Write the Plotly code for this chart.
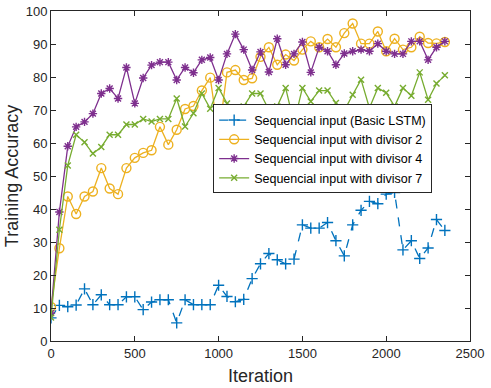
import plotly.graph_objs as go

# iteration steps (every 50)
ITERATIONS = list(range(0, 2400, 50))

ACC_BASIC = [7.0, 10.8, 10.4, 10.9, 15.8, 11.0, 14.0, 11.0, 11.0, 13.4,
             13.4, 9.5, 11.8, 12.5, 12.5, 5.5, 12.5, 11.0, 11.0, 11.0,
             16.9, 13.5, 11.9, 12.6, 18.9, 23.4, 26.5, 24.6, 23.4, 24.8,
             35.2, 34.2, 34.2, 35.9, 30.4, 25.8, 35.2, 39.6, 42.3, 41.6,
             44.5, 45.0, 27.6, 30.4, 25.0, 28.2, 36.8, 33.5]
ACC_DIV2 = [10.3, 28.1, 43.8, 38.5, 43.8, 45.3, 52.4, 46.2, 44.5, 52.4,
            55.5, 57.0, 57.8, 64.9, 59.5, 64.0, 70.3, 71.2, 75.9, 79.8,
            62.0, 81.4, 82.1, 79.1, 79.6, 86.1, 89.0, 83.7, 86.8, 85.0,
            88.3, 90.8, 89.0, 91.5, 89.0, 93.3, 96.2, 90.1, 90.1, 93.8,
            87.8, 91.6, 88.3, 89.0, 92.2, 90.3, 90.2, 90.6]
ACC_DIV4 = [8.5, 39.1, 59.0, 64.9, 66.4, 68.9, 75.0, 76.5, 73.5, 82.9,
            72.0, 79.7, 83.6, 84.5, 84.5, 79.1, 82.9, 81.3, 85.2, 85.9,
            79.1, 87.0, 93.0, 88.3, 82.1, 87.6, 81.5, 91.6, 83.7, 87.0,
            90.6, 81.4, 89.0, 87.8, 83.7, 87.1, 87.8, 88.3, 87.8, 90.1,
            87.8, 87.0, 87.0, 90.8, 90.8, 85.2, 89.0, 90.8]
ACC_DIV7 = [7.1, 33.7, 53.2, 62.5, 60.2, 56.8, 58.8, 62.5, 62.5, 65.6,
            65.6, 67.3, 66.5, 67.3, 67.3, 73.5, 65.0, 69.0, 75.0, 70.4,
            76.7, 72.0, 70.5, 71.1, 75.0, 75.0, 70.0, 71.1, 76.7, 66.0,
            76.7, 72.6, 75.9, 75.9, 72.1, 69.8, 74.6, 79.2, 70.6, 76.7,
            75.2, 71.1, 76.7, 74.3, 81.4, 73.1, 78.0, 80.5]

SERIES = [
    ("Sequencial input (Basic LSTM)", ACC_BASIC, "#0072BD", "dash", "cross-thin-open", 8),
    ("Sequencial input with divisor 2", ACC_DIV2, "#EDB120", "solid", "circle-open", 9),
    ("Sequencial input with divisor 4", ACC_DIV4, "#7E2F8E", "solid", "asterisk-open", 7),
    ("Sequencial input with divisor 7", ACC_DIV7, "#77AC30", "solid", "x-thin-open", 6),
]

AXIS_COLOR = "#262626"
FONT = "Liberation Sans, Arial"

traces = []
for name, vals, color, dash, symbol, size in SERIES:
    traces.append(
        go.Scatter(
            x=ITERATIONS,
            y=vals,
            name=name,
            mode="lines+markers",
            line=dict(color=color, width=1.3, dash=dash),
            marker=dict(symbol=symbol, size=size, color=color,
                        line=dict(color=color, width=1.4)),
        )
    )

fig = go.Figure(data=traces)

axis_common = dict(
    showgrid=False,
    zeroline=False,
    showline=True,
    linecolor=AXIS_COLOR,
    linewidth=1,
    mirror="allticks",
    ticks="inside",
    ticklen=5,
    tickcolor=AXIS_COLOR,
    automargin=False,
    tickfont=dict(family=FONT, size=13, color=AXIS_COLOR),
)

fig.update_xaxes(range=[0, 2500], dtick=500, tick0=0,
                 title=dict(text="Iteration", standoff=9,
                            font=dict(family=FONT, size=18, color=AXIS_COLOR)),
                 **axis_common)
fig.update_yaxes(range=[0, 100], dtick=10, tick0=0,
                 title=dict(text="Training Accuracy", standoff=2,
                            font=dict(family=FONT, size=18, color=AXIS_COLOR)),
                 **axis_common)

fig.update_layout(
    width=491,
    height=388,
    margin=dict(l=51, r=21, t=11, b=47),
    paper_bgcolor="white",
    plot_bgcolor="white",
    font=dict(family=FONT, color=AXIS_COLOR),
    legend=dict(
        x=0.387, y=0.582, xanchor="left", yanchor="middle",
        bgcolor="white", bordercolor=AXIS_COLOR, borderwidth=1,
        font=dict(family=FONT, size=12.5, color="#000000"),
        tracegroupgap=0, itemwidth=30,
    ),
)

# drop the browser's default 8px body margin so the figure sits at the page corner
fig.write_html("out.html", config={"displayModeBar": False},
               post_script="document.body.style.margin='0px';")
